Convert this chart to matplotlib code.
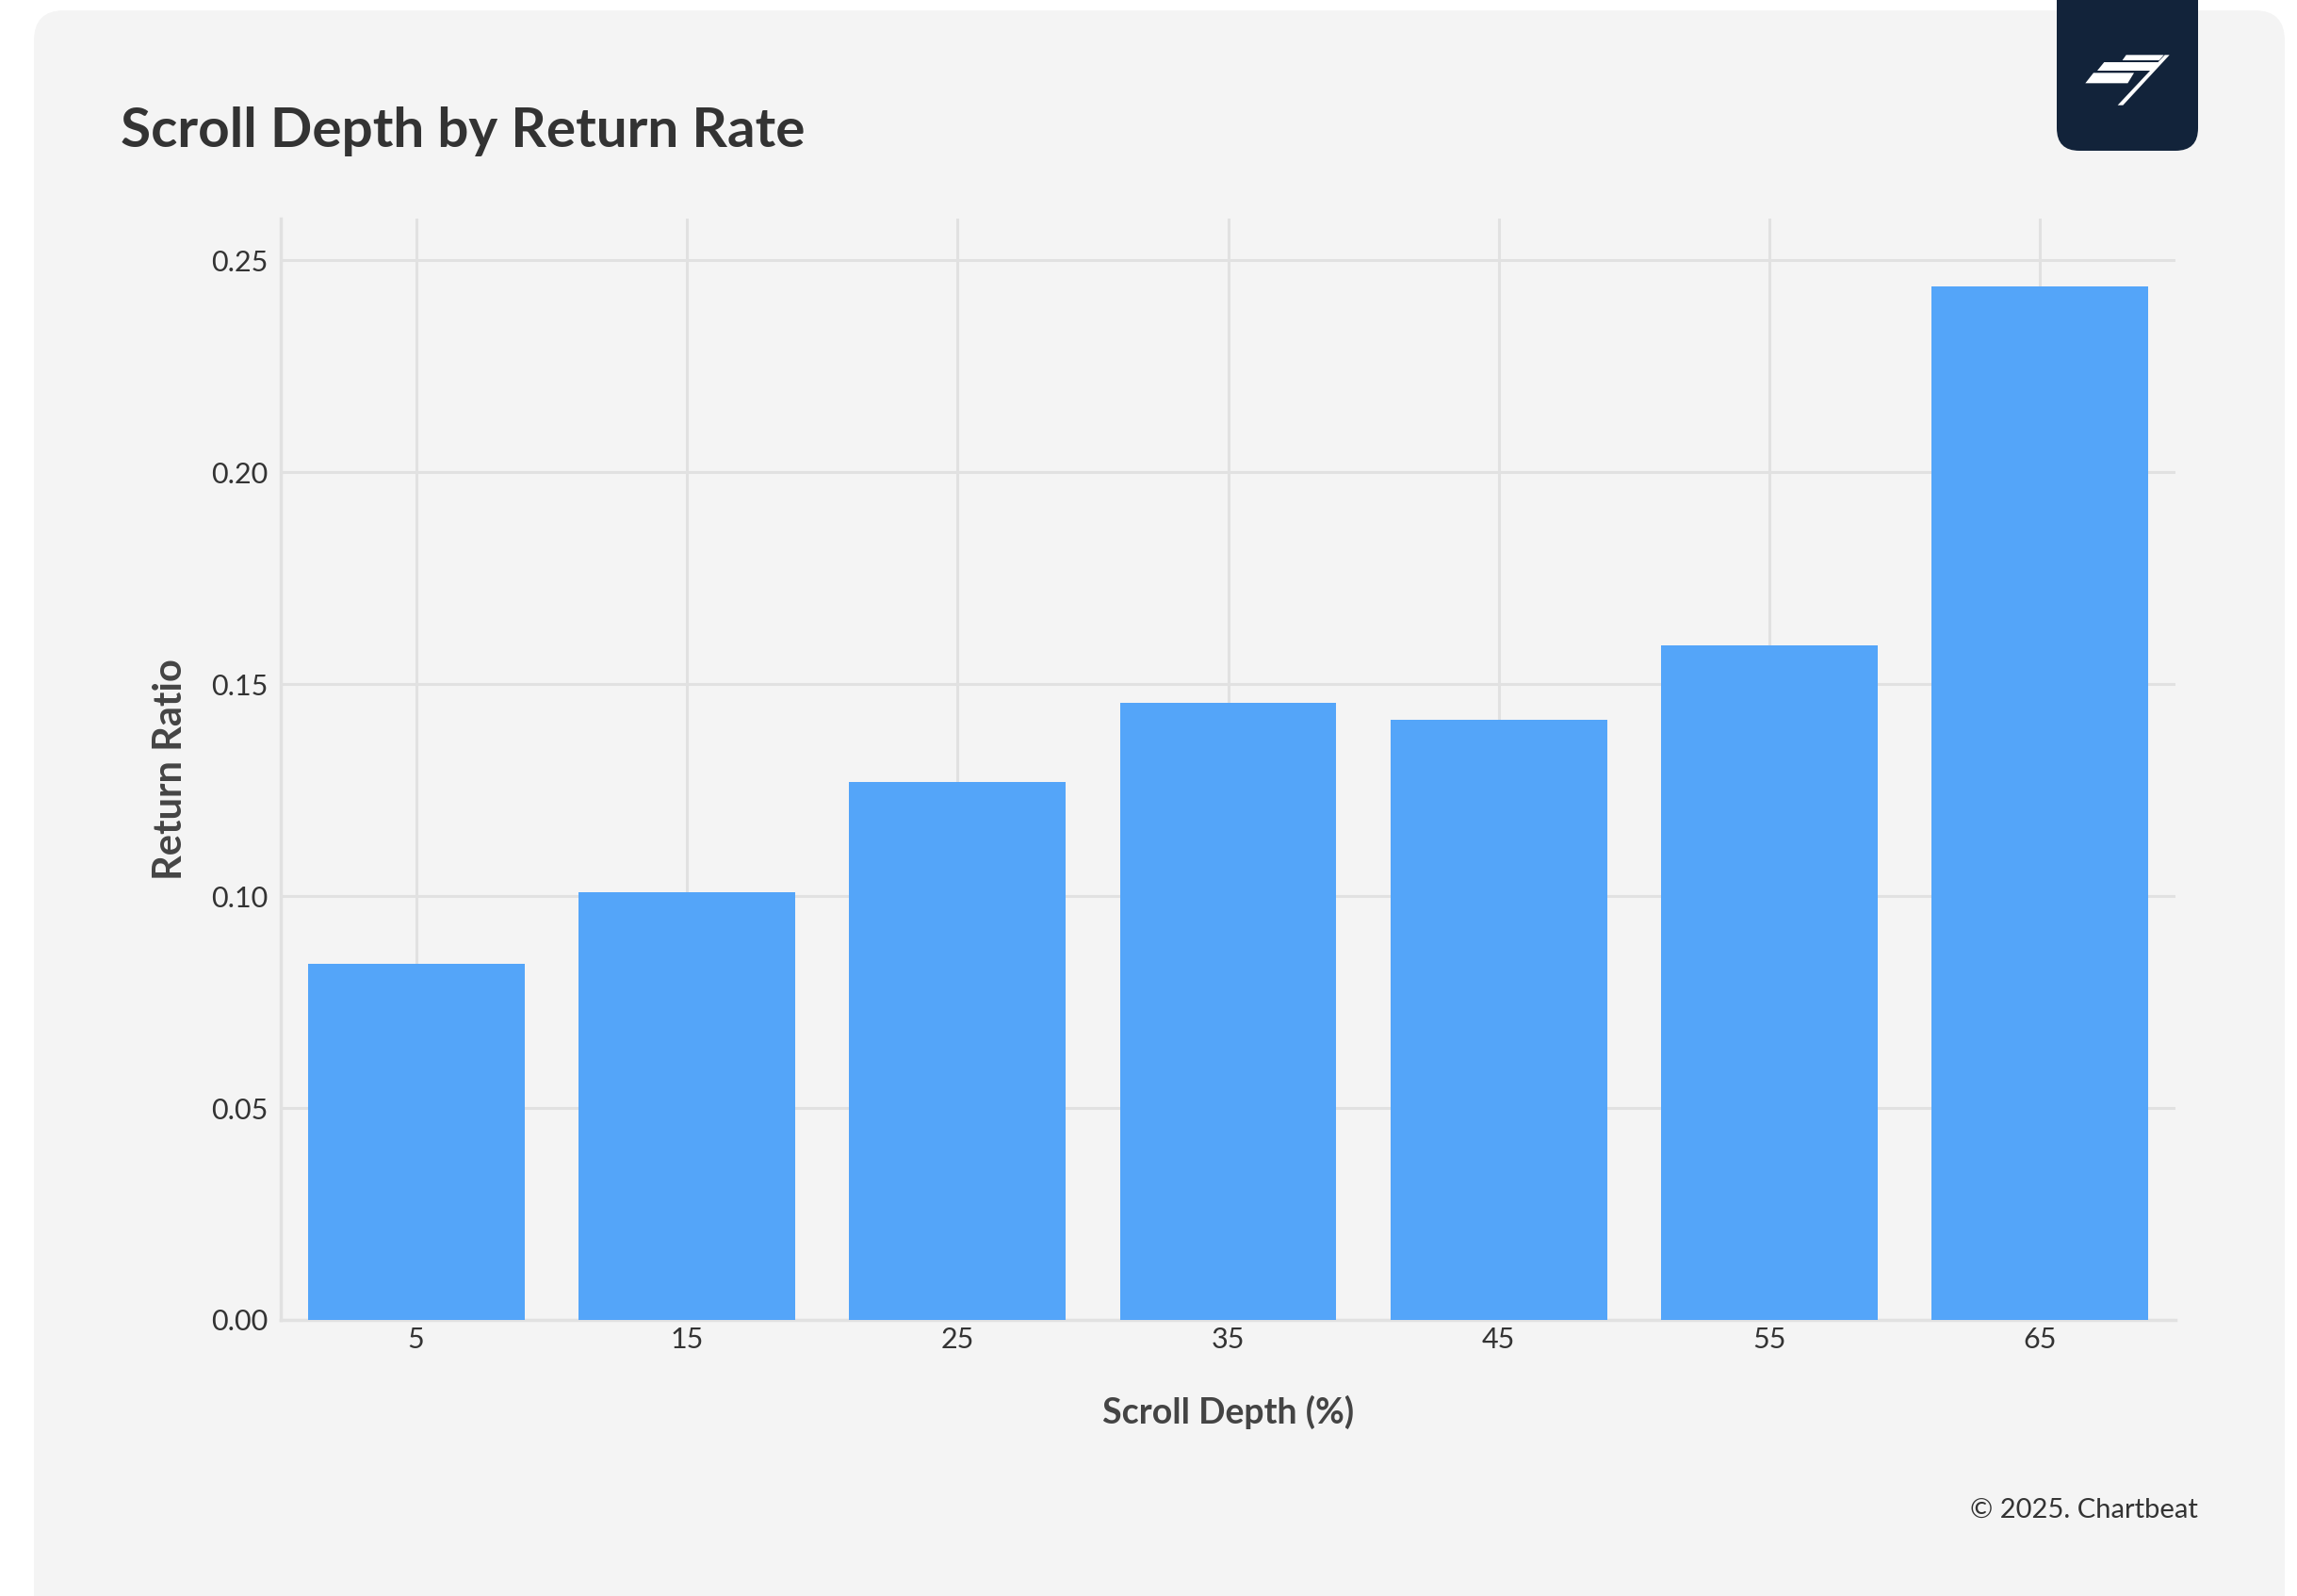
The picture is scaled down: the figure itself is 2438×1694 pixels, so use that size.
import matplotlib.pyplot as plt
from matplotlib.patches import FancyBboxPatch, Polygon

# ---- Data ------------------------------------------------------------------
scroll_depth = [5, 15, 25, 35, 45, 55, 65]
return_ratio = [0.0839, 0.1009, 0.1269, 0.1456, 0.1415, 0.1592, 0.2438]
y_ticks = [0.00, 0.05, 0.10, 0.15, 0.20, 0.25]

TITLE = "Scroll Depth by Return Rate"
X_LABEL = "Scroll Depth (%)"
Y_LABEL = "Return Ratio"
FOOTER = "\u00a9 2025. Chartbeat"

BAR_COLOR = "#54a5f9"
CARD_COLOR = "#f4f4f4"
GRID_COLOR = "#e1e1e1"
TEXT_COLOR = "#333333"
LABEL_COLOR = "#444444"
LOGO_COLOR = "#12233a"

plt.rcParams["font.family"] = ["Lato", "DejaVu Sans"]

W, H = 2438, 1694
fig = plt.figure(figsize=(W / 100, H / 100), dpi=100)
fig.patch.set_facecolor("white")

# background card, in pixel coordinates
bg = fig.add_axes([0, 0, 1, 1], zorder=-1)
bg.set_xlim(0, W)
bg.set_ylim(H, 0)
bg.axis("off")
bg.add_patch(FancyBboxPatch((36, 11), 2425 - 36, 1750 - 11,
                            boxstyle="round,pad=0,rounding_size=32",
                            facecolor=CARD_COLOR, edgecolor="none"))

# logo tile
bg.add_patch(FancyBboxPatch((2183, -40), 150, 200,
                            boxstyle="round,pad=0,rounding_size=24",
                            facecolor=LOGO_COLOR, edgecolor="none"))
logo_shapes = [
    [(170, 55), (290, 55), (275, 72), (158, 72)],
    [(100, 78), (275, 78), (255, 105), (78, 105)],
    [(66, 112), (195, 112), (175, 145), (40, 145)],
    [(293, 55), (308, 55), (160, 215), (143, 215)],
]
for shape in logo_shapes:
    pts = [(2200 + x / 3, 40 + y / 3) for x, y in shape]
    bg.add_patch(Polygon(pts, closed=True, facecolor="white", edgecolor="none"))

# ---- Main chart ------------------------------------------------------------
ax = fig.add_axes([298 / W, 1 - 1401 / H, (2309 - 298) / W, (1401 - 232) / H])
ax.set_facecolor("none")

ax.bar(scroll_depth, return_ratio, width=8, color=BAR_COLOR, zorder=3)

ax.set_xlim(0, 70)
ax.set_ylim(0, 0.2598)
ax.set_xticks(scroll_depth)
ax.set_xticklabels([str(v) for v in scroll_depth])
ax.set_yticks(y_ticks)
ax.set_yticklabels([f"{v:.2f}" for v in y_ticks])

ax.grid(True, color=GRID_COLOR, linewidth=2.2, zorder=0)
ax.tick_params(length=0, labelsize=22, colors=TEXT_COLOR)
ax.tick_params(axis="x", pad=5)
ax.tick_params(axis="y", pad=10)

for s in ["top", "right"]:
    ax.spines[s].set_visible(False)
for s in ["left", "bottom"]:
    ax.spines[s].set_color(GRID_COLOR)
    ax.spines[s].set_linewidth(2.5)

ax.set_xlabel(X_LABEL, fontsize=27, fontweight="bold", color=LABEL_COLOR, labelpad=32)
ax.set_ylabel(Y_LABEL, fontsize=30, fontweight="bold", color=LABEL_COLOR, labelpad=17)

fig.text(128 / W, 1 - 140 / H, TITLE, fontsize=42, fontweight="bold",
         color=TEXT_COLOR, ha="left", va="center")
fig.text(2333 / W, 1 - 1603 / H, FOOTER, fontsize=21, color=TEXT_COLOR,
         ha="right", va="center")

fig.savefig("out.png", dpi=100, facecolor=fig.get_facecolor())
